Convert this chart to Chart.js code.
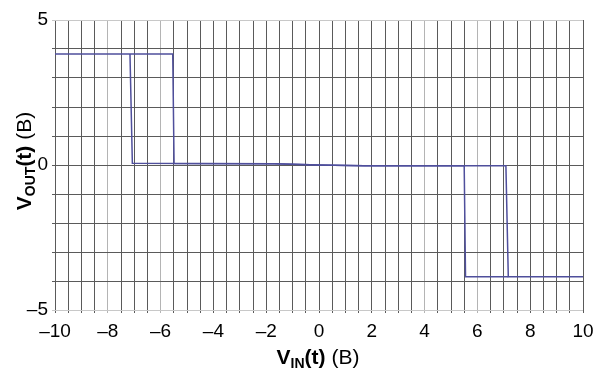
<!DOCTYPE html>
<html>
<head>
<meta charset="utf-8">
<script src="https://cdn.jsdelivr.net/npm/chart.js@4.4.1/dist/chart.umd.min.js"></script>
<style>
  body { margin: 0; background: #fff; }
</style>
</head>
<body>
<canvas id="chart" width="599" height="369"></canvas>
<script>
// outer path of the hysteresis loop
const outerX = [-10, -5.54, -5.49, -1.7, 0, 1.7, 7.08, 7.17, 10];
const outerY = [3.83, 3.83, 0.05, 0.04, 0.0, -0.03, -0.03, -3.85, -3.85];
// inner path
const innerX = [-7.16, -7.07, -1.7, 0, 1.7, 5.50, 5.55, 7.17];
const innerY = [3.83, 0.06, 0.04, 0.0, -0.03, -0.03, -3.85, -3.85];

const xTickLabels = [-10, -8, -6, -4, -2, 0, 2, 4, 6, 8, 10];
const yTickLabels = [-5, 0, 5];
const lightGridX = [-8, -6, 4, 6];

const lineColor = '#4f4f9c';
const fontFamily = '"Liberation Sans", Arial, sans-serif';

function toPoints(xs, ys) {
    return xs.map((x, i) => ({ x: x, y: ys[i] }));
}

function fmt(v) {
    return v < 0 ? '\u2013' + Math.abs(v) : String(v);
}

function drawRich(ctx, parts, cx, baseY) {
    let total = 0;
    parts.forEach(p => {
        ctx.font = p.font;
        p.w = ctx.measureText(p.text).width;
        total += p.w;
    });
    let x = cx - total / 2;
    ctx.fillStyle = '#000';
    ctx.textBaseline = 'alphabetic';
    ctx.textAlign = 'left';
    parts.forEach(p => {
        ctx.font = p.font;
        ctx.fillText(p.text, x, baseY + (p.dy || 0));
        x += p.w;
    });
}

const axisTitles = {
    id: 'axisTitles',
    afterDraw(chart) {
        const ctx = chart.ctx;
        const big = 'bold 21px ' + fontFamily;
        const sub = 'bold 14px ' + fontFamily;
        const norm = '21px ' + fontFamily;
        ctx.save();
        drawRich(ctx, [
            { text: 'V', font: big },
            { text: 'IN', font: sub, dy: 4 },
            { text: '(t)', font: big },
            { text: ' (B)', font: norm }
        ], 318, 364);
        ctx.translate(31, 161);
        ctx.rotate(-Math.PI / 2);
        drawRich(ctx, [
            { text: 'V', font: big },
            { text: 'OUT', font: sub, dy: 4 },
            { text: '(t)', font: big },
            { text: ' (B)', font: norm }
        ], 0, 0);
        ctx.restore();
    }
};

new Chart(document.getElementById('chart'), {
    type: 'scatter',
    data: {
        datasets: [
            {
                data: toPoints(outerX, outerY),
                showLine: true,
                borderColor: lineColor,
                borderWidth: 1.5,
                pointRadius: 0,
                tension: 0
            },
            {
                data: toPoints(innerX, innerY),
                showLine: true,
                borderColor: lineColor,
                borderWidth: 1.5,
                pointRadius: 0,
                tension: 0
            }
        ]
    },
    options: {
        responsive: false,
        animation: false,
        layout: { padding: { left: 0, right: 16, top: 20, bottom: 0 } },
        plugins: {
            legend: { display: false },
            tooltip: { enabled: false }
        },
        scales: {
            x: {
                type: 'linear',
                min: -10,
                max: 10,
                afterFit: scale => {
                    scale.height = 59;
                    scale.paddingLeft = 0;
                    scale.paddingRight = 0;
                },
                border: { display: false },
                grid: {
                    color: c => lightGridX.includes(c.tick.value) ? '#b4b4b4' : '#5a5a5a',
                    lineWidth: 1,
                    tickLength: 3
                },
                ticks: {
                    stepSize: 0.5,
                    autoSkip: false,
                    maxRotation: 0,
                    padding: 7,
                    color: '#000',
                    font: { family: fontFamily, size: 19 },
                    callback: v => xTickLabels.includes(v) ? fmt(v) : ''
                }
            },
            y: {
                type: 'linear',
                min: -5,
                max: 5,
                afterFit: scale => {
                    scale.width = 55;
                    scale.paddingTop = 0;
                    scale.paddingBottom = 0;
                },
                border: { display: false },
                grid: {
                    color: c => Math.abs(c.tick.value) === 5 ? '#c8c8c8' : '#5a5a5a',
                    lineWidth: 1,
                    tickLength: 3
                },
                ticks: {
                    stepSize: 1,
                    autoSkip: false,
                    padding: 4,
                    color: '#000',
                    font: { family: fontFamily, size: 19 },
                    callback: v => yTickLabels.includes(v) ? fmt(v) : ''
                }
            }
        }
    },
    plugins: [axisTitles]
});
</script>
</body>
</html>
